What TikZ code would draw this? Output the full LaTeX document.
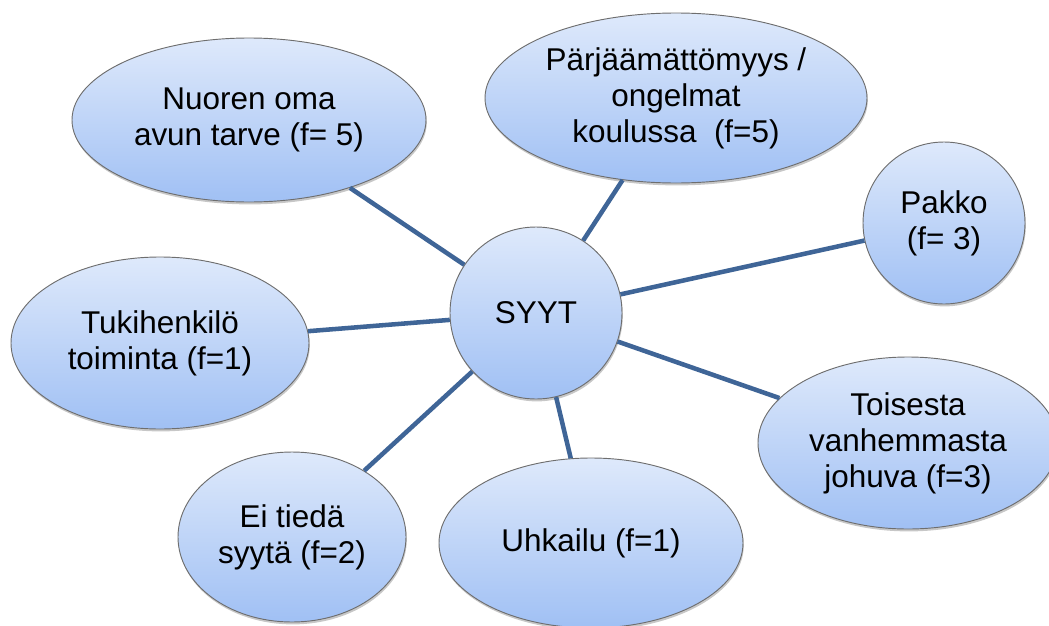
\documentclass[tikz,border=0pt]{standalone}
\usepackage{fontspec}
\setmainfont{Liberation Sans}
\usetikzlibrary{shapes.geometric,shadows}
\definecolor{topblue}{HTML}{DEE9FB}
\definecolor{botblue}{HTML}{A0C0F4}
\definecolor{rimgray}{HTML}{6E6E6E}
\definecolor{linkblue}{HTML}{3F6597}
\tikzset{
  bubble/.style={ellipse, draw=rimgray, line width=0.7pt, top color=topblue, bottom color=botblue,
    inner sep=0pt, align=center, text=black,
    font=\fontsize{23.6}{27}\selectfont,
    drop shadow={shadow xshift=0.6pt, shadow yshift=-1.8pt, opacity=0.22, fill=black}},
  link/.style={draw=linkblue, line width=3.4pt}
}
\begin{document}
\begin{tikzpicture}[x=0.75pt,y=-0.75pt]
\useasboundingbox (0,0) rectangle (1049,625);
\node[bubble, minimum width=172*0.75pt, minimum height=172*0.75pt] (s) at (536,313) {SYYT};
\node[bubble, minimum width=354*0.75pt, minimum height=164*0.75pt] (n1) at (249,120) {Nuoren oma\\avun tarve (f= 5)};
\node[bubble, minimum width=382*0.75pt, minimum height=170*0.75pt] (n2) at (676,98) {Pärjäämättömyys /\\ongelmat\\koulussa~~(f=5)};
\node[bubble, minimum width=162*0.75pt, minimum height=162*0.75pt] (n3) at (944,223) {Pakko\\(f= 3)};
\node[bubble, minimum width=300*0.75pt, minimum height=172*0.75pt] (n4) at (908,443) {Toisesta\\vanhemmasta\\johuva (f=3)};
\node[bubble, minimum width=304*0.75pt, minimum height=170*0.75pt] (n5) at (591,543) {Uhkailu (f=1)};
\node[bubble, minimum width=228*0.75pt, minimum height=170*0.75pt] (n6) at (292,537) {Ei tiedä\\syytä (f=2)};
\node[bubble, minimum width=298*0.75pt, minimum height=172*0.75pt] (n7) at (160,343) {Tukihenkilö\\toiminta (f=1)};
\foreach \t in {n1,n2,n3,n4,n5,n6,n7} \draw[link] (s) -- (\t);
\end{tikzpicture}
\end{document}
